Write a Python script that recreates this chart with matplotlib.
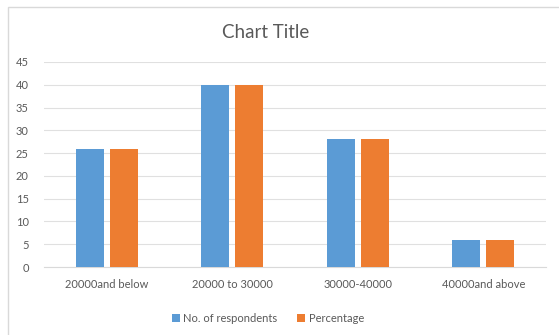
import numpy as np
import matplotlib.pyplot as plt
from matplotlib.patches import Rectangle

plt.rcParams['font.family'] = ['Lato', 'DejaVu Sans']

categories = ['20000and below', '20000 to 30000', '30000-40000', '40000and above']
respondents = [26, 40, 28, 6]
percentage = [26, 40, 28, 6]

fig = plt.figure(figsize=(5.59, 3.35), dpi=100)
W, H = 559, 335

# chart frame (cropped on right and bottom like the screenshot)
fig.patches.append(Rectangle((8 / W, -0.1), 1.2, 1 - 7 / H + 0.1, transform=fig.transFigure,
                             fill=False, edgecolor='#d9d9d9', linewidth=1))

ax = fig.add_axes([44 / W, 1 - 267 / H, (546 - 44) / W, (267 - 62) / H])

x = np.arange(len(categories))
bw = 0.222
ax.bar(x - bw / 2 - 0.024, respondents, bw, color='#5B9BD5', label='No. of respondents', zorder=3)
ax.bar(x + bw / 2 + 0.024, percentage, bw, color='#ED7D31', label='Percentage', zorder=3)

ax.set_xlim(-0.5, len(categories) - 0.5)
ax.set_ylim(0, 45)
ax.set_yticks(range(0, 46, 5))
ax.set_xticks(x)
ax.set_xticklabels(categories)
ax.grid(axis='y', color='#e0e0e0', linewidth=0.8, zorder=0)
for s in ['top', 'right', 'left']:
    ax.spines[s].set_visible(False)
ax.spines['bottom'].set_color('#d9d9d9')
ax.tick_params(axis='both', length=0, labelsize=8, labelcolor='#595959')
ax.tick_params(axis='x', pad=9)
ax.tick_params(axis='y', pad=11)

fig.text(266 / W, 1 - 32 / H, 'Chart Title', ha='center', va='center', fontsize=13.5, color='#595959')

fig.legend(loc='center', bbox_to_anchor=(268 / W, 1 - 318 / H), ncol=2, frameon=False,
           fontsize=8, labelcolor='#595959', handlelength=0.7, handleheight=0.7,
           handletextpad=0.3, columnspacing=1.8)

fig.savefig('out.png', dpi=100)
